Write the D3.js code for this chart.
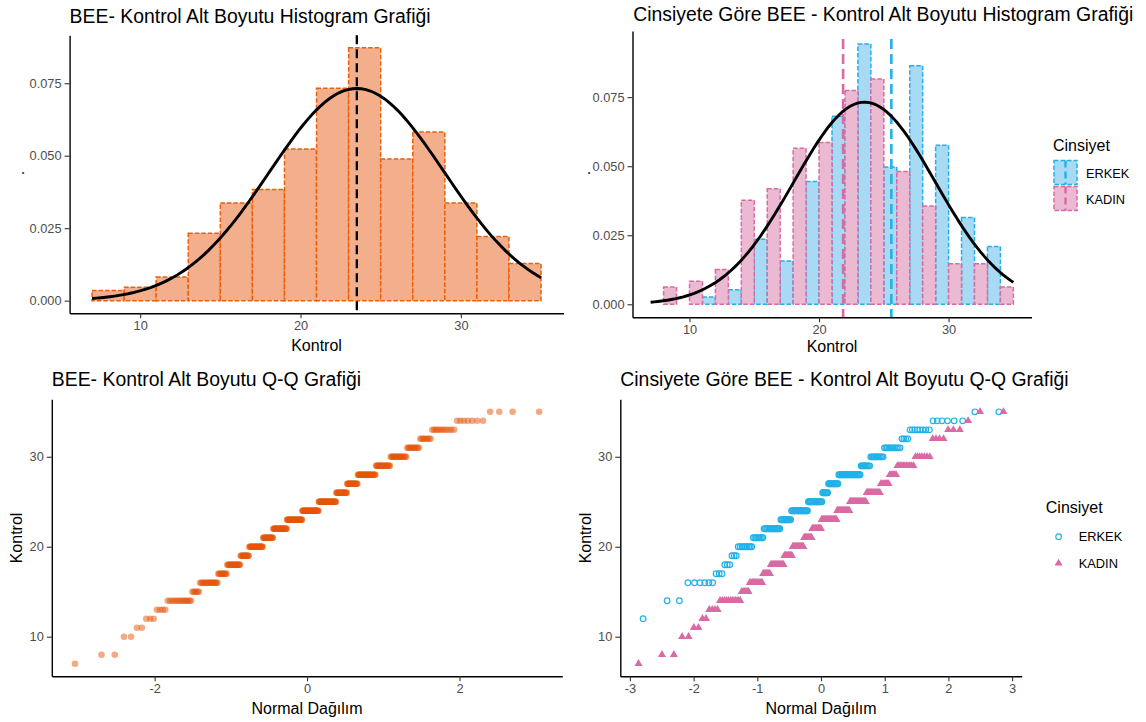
<!DOCTYPE html>
<html>
<head>
<meta charset="utf-8">
<script src="https://cdn.jsdelivr.net/npm/d3@7"></script>
<style>
  body { margin: 0; background: #fff; }
  svg { display: block; font-family: "Liberation Sans", Arial, sans-serif; }
</style>
</head>
<body>
<div id="chart"></div>
<script>
const scores = [7, 8, 9, 10, 11, 12, 13, 14, 15, 16, 17, 18, 19, 20, 21, 22, 23, 24, 25, 26, 27, 28, 29, 30, 31, 32, 33, 34, 35];
const erkekCounts = [0, 0, 0, 0, 0, 1, 0, 2, 0, 6, 3, 3, 3, 9, 8, 15, 11, 19, 17, 7, 12, 24, 9, 11, 11, 4, 8, 6, 2];
const kadinCounts = [1, 2, 0, 2, 2, 2, 4, 12, 6, 12, 8, 16, 11, 16, 12, 14, 23, 18, 21, 15, 8, 6, 11, 7, 0, 4, 3, 1, 2];
const groups = ["ERKEK", "KADIN"];

// histogram bins (binwidth 2) and axis ticks
const binEdges = [7, 9, 11, 13, 15, 17, 19, 21, 23, 25, 27, 29, 31, 33, 35];
const histXTicks = [10, 20, 30];
const histYTicks = [0, 0.025, 0.05, 0.075];
const qqYTicks = [10, 20, 30];
const qqXTicksAll = [-2, 0, 2];
const qqXTicksGroup = [-3, -2, -1, 0, 1, 2, 3];

const titles = [
  "BEE- Kontrol Alt Boyutu Histogram Grafiği",
  "Cinsiyete Göre BEE - Kontrol Alt Boyutu Histogram Grafiği",
  "BEE- Kontrol Alt Boyutu Q-Q Grafiği",
  "Cinsiyete Göre BEE - Kontrol Alt Boyutu Q-Q Grafiği"
];

const colors = {
  orangeFill: "#F3AF8C", orangeLine: "#E8600C", orangePoint: "#E5560A",
  ERKEK: { fill: "#A8DAF3", line: "#22B1E8" },
  KADIN: { fill: "#EBB9D2", line: "#DA6AA4" }
};
const outlineDash = "4.5,2";

const svg = d3.select("#chart")
    .append("svg")
    .attr("width", 1146)
    .attr("height", 722);

// --- helpers ---
const expand = counts => scores.flatMap((v, i) => d3.range(counts[i]).map(() => v));
const erkek = expand(erkekCounts);
const kadin = expand(kadinCounts);
const all = erkek.concat(kadin).sort(d3.ascending);
const sample = { ERKEK: erkek, KADIN: kadin };

// right-closed bins like ggplot (first bin also closed on the left)
function binCounts(values) {
  return binEdges.slice(0, -1).map((x0, i) => {
    const x1 = binEdges[i + 1];
    const n = values.filter(v => i === 0 ? (v >= x0 && v <= x1) : (v > x0 && v <= x1)).length;
    return { x0, x1, density: n / (values.length * (x1 - x0)) };
  });
}

// inverse normal cdf (Acklam)
function qnorm(p) {
  const a = [-3.969683028665376e+01, 2.209460984245205e+02, -2.759285104469687e+02, 1.383577518672690e+02, -3.066479806614716e+01, 2.506628277459239e+00];
  const b = [-5.447609879822406e+01, 1.615858368580409e+02, -1.556989798598866e+02, 6.680131188771972e+01, -1.328068155288572e+01];
  const c = [-7.784894002430293e-03, -3.223964580411365e-01, -2.400758277161838e+00, -2.549732539343734e+00, 4.374664141464968e+00, 2.938163982698783e+00];
  const d = [7.784695709041462e-03, 3.224671290700398e-01, 2.445134137142996e+00, 3.754408661907416e+00];
  let q, r;
  if (p < 0.02425) {
    q = Math.sqrt(-2 * Math.log(p));
    return (((((c[0]*q+c[1])*q+c[2])*q+c[3])*q+c[4])*q+c[5]) / ((((d[0]*q+d[1])*q+d[2])*q+d[3])*q+1);
  }
  if (p <= 1 - 0.02425) {
    q = p - 0.5; r = q * q;
    return (((((a[0]*r+a[1])*r+a[2])*r+a[3])*r+a[4])*r+a[5])*q / (((((b[0]*r+b[1])*r+b[2])*r+b[3])*r+b[4])*r+1);
  }
  q = Math.sqrt(-2 * Math.log(1 - p));
  return -(((((c[0]*q+c[1])*q+c[2])*q+c[3])*q+c[4])*q+c[5]) / ((((d[0]*q+d[1])*q+d[2])*q+d[3])*q+1);
}

// theoretical quantiles for a sorted sample (ppoints)
function qqPoints(values) {
  const s = values.slice().sort(d3.ascending), n = s.length;
  return s.map((v, i) => ({ q: qnorm((i + 0.5) / n), v }));
}

// ggplot-like 5% expansion
const expandDomain = ([lo, hi]) => { const m = (hi - lo) * 0.05; return [lo - m, hi + m]; };

function drawAxes(g, x, y, box, xTicks, yTicks, yFmt) {
  const xa = g.append("g")
      .attr("transform", `translate(0,${box.y1})`)
      .call(d3.axisBottom(x).tickValues(xTicks).tickFormat(d => String(d)).tickSize(5).tickPadding(3).tickSizeOuter(0));
  const ya = g.append("g")
      .attr("transform", `translate(${box.x0},0)`)
      .call(d3.axisLeft(y).tickValues(yTicks).tickFormat(yFmt).tickSize(5).tickPadding(3).tickSizeOuter(0));
  [xa, ya].forEach(a => {
    a.select(".domain").attr("stroke", "#000").attr("stroke-width", 1.4);
    a.selectAll(".tick line").attr("stroke", "#333").attr("stroke-width", 1.1);
    a.selectAll(".tick text").attr("fill", "#4D4D4D").style("font-size", "12.8px");
  });
}

function addText(x, y, txt, size, anchor, rotate) {
  const t = svg.append("text")
      .attr("x", x).attr("y", y)
      .attr("text-anchor", anchor || "start")
      .style("font-size", size + "px")
      .attr("fill", "#000")
      .text(txt);
  if (rotate) t.attr("transform", `rotate(-90,${x},${y})`);
  return t;
}

// overall normal curve parameters, from the data
const mu = d3.mean(all), sd = d3.deviation(all);
const dnorm = v => Math.exp(-0.5 * ((v - mu) / sd) ** 2) / (sd * Math.sqrt(2 * Math.PI));
const curveX = d3.range(101).map(i => 7 + i * (35 - 7) / 100);

// ---------------- Panel 1: overall histogram ----------------
{
  const box = { x0: 69.6, x1: 563.5, y0: 35.2, y1: 313.3 };
  const bins = binCounts(all);
  const x = d3.scaleLinear().domain(expandDomain([7, 35])).range([box.x0, box.x1]);
  const y = d3.scaleLinear().domain(expandDomain([0, d3.max(bins, d => d.density)])).range([box.y1, box.y0]);
  const g = svg.append("g");

  g.selectAll("rect.bar").data(bins).join("rect")
      .attr("x", d => x(d.x0)).attr("width", d => x(d.x1) - x(d.x0))
      .attr("y", d => y(d.density)).attr("height", d => y(0) - y(d.density))
      .attr("fill", colors.orangeFill)
      .attr("stroke", colors.orangeLine).attr("stroke-width", 1.5)
      .attr("stroke-dasharray", outlineDash);

  g.append("line")
      .attr("x1", x(mu)).attr("x2", x(mu)).attr("y1", box.y0).attr("y2", box.y1)
      .attr("stroke", "#000").attr("stroke-width", 2.3).attr("stroke-dasharray", "9,5");

  g.append("path")
      .datum(curveX)
      .attr("d", d3.line().x(d => x(d)).y(d => y(dnorm(d))))
      .attr("fill", "none").attr("stroke", "#000").attr("stroke-width", 2.9);

  drawAxes(g, x, y, box, histXTicks, histYTicks, d3.format(".3f"));
  addText(box.x0, 22.7, titles[0], 19.4);
  addText((box.x0 + box.x1) / 2, 350.7, "Kontrol", 16, "middle");
  addText(24, 173, ".", 16, "middle", true);
}

// ---------------- Panel 2: histogram by gender (dodged) ----------------
{
  const box = { x0: 632.5, x1: 1031.5, y0: 31, y1: 317.3 };
  const binsBy = groups.map((grp, gi) => binCounts(sample[grp]).map(b => ({
    grp, x0: b.x0 + gi * (b.x1 - b.x0) / 2, x1: b.x0 + (gi + 1) * (b.x1 - b.x0) / 2, density: b.density
  })));
  const flat = binsBy.flat();
  const x = d3.scaleLinear().domain(expandDomain([7, 35])).range([box.x0, box.x1]);
  const y = d3.scaleLinear().domain(expandDomain([0, d3.max(flat, d => d.density)])).range([box.y1, box.y0]);
  const g = svg.append("g");

  g.selectAll("rect.bar").data(flat).join("rect")
      .attr("x", d => x(d.x0)).attr("width", d => x(d.x1) - x(d.x0))
      .attr("y", d => y(d.density)).attr("height", d => y(0) - y(d.density))
      .attr("fill", d => colors[d.grp].fill)
      .attr("stroke", d => colors[d.grp].line).attr("stroke-width", 1.5)
      .attr("stroke-dasharray", outlineDash);

  groups.forEach(grp => {
    const m = d3.mean(sample[grp]);
    g.append("line")
        .attr("x1", x(m)).attr("x2", x(m)).attr("y1", box.y0 + 8).attr("y2", box.y1)
        .attr("stroke", colors[grp].line).attr("stroke-width", 2.6).attr("stroke-dasharray", "10,5");
  });

  g.append("path")
      .datum(curveX)
      .attr("d", d3.line().x(d => x(d)).y(d => y(dnorm(d))))
      .attr("fill", "none").attr("stroke", "#000").attr("stroke-width", 2.9);

  drawAxes(g, x, y, box, histXTicks, histYTicks, d3.format(".3f"));
  addText(box.x0 + 0.7, 20.7, titles[1], 19.4);
  addText((box.x0 + box.x1) / 2, 352.4, "Kontrol", 16, "middle");
  addText(590, 173, ".", 16, "middle", true);

  // legend
  addText(1053, 150.7, "Cinsiyet", 16);
  groups.forEach((grp, i) => {
    const ky = 160.5 + i * 26;
    g.append("rect")
        .attr("x", 1054).attr("y", ky).attr("width", 23).attr("height", 24)
        .attr("fill", colors[grp].fill).attr("stroke", colors[grp].line)
        .attr("stroke-width", 1.5).attr("stroke-dasharray", outlineDash);
    g.append("line")
        .attr("x1", 1065.5).attr("x2", 1065.5).attr("y1", ky).attr("y2", ky + 24)
        .attr("stroke", colors[grp].line).attr("stroke-width", 2.4).attr("stroke-dasharray", "7,4");
    addText(1086, ky + 12.5 + 4.6, grp, 12.8);
  });
}

// ---------------- Panel 3: overall Q-Q ----------------
{
  const box = { x0: 51.8, x1: 562.3, y0: 399.2, y1: 676.3 };
  const pts = qqPoints(all);
  const x = d3.scaleLinear().domain(expandDomain(d3.extent(pts, d => d.q))).range([box.x0, box.x1]);
  const y = d3.scaleLinear().domain(expandDomain(d3.extent(pts, d => d.v))).range([box.y1, box.y0]);
  const g = svg.append("g");

  g.selectAll("circle").data(pts).join("circle")
      .attr("cx", d => x(d.q)).attr("cy", d => y(d.v)).attr("r", 3.3)
      .attr("fill", colors.orangePoint).attr("fill-opacity", 0.5);

  drawAxes(g, x, y, box, qqXTicksAll, qqYTicks, d => String(d));
  addText(box.x0, 386, titles[2], 19.4);
  addText((box.x0 + box.x1) / 2, 713.7, "Normal Dağılım", 16, "middle");
  addText(21.7, 538, "Kontrol", 16, "middle", true);
}

// ---------------- Panel 4: Q-Q by gender ----------------
{
  const box = { x0: 620.3, x1: 1021.7, y0: 399.2, y1: 676.3 };
  const ptsBy = groups.map(grp => qqPoints(sample[grp]).map(p => ({ ...p, grp })));
  const flat = ptsBy.flat();
  const x = d3.scaleLinear().domain(expandDomain(d3.extent(flat, d => d.q))).range([box.x0, box.x1]);
  const y = d3.scaleLinear().domain(expandDomain(d3.extent(flat, d => d.v))).range([box.y1, box.y0]);
  const g = svg.append("g");
  const tri = d3.symbol().type(d3.symbolTriangle).size(28);

  g.selectAll("circle").data(ptsBy[0]).join("circle")
      .attr("cx", d => x(d.q)).attr("cy", d => y(d.v)).attr("r", 2.8)
      .attr("fill", "none").attr("stroke", colors.ERKEK.line).attr("stroke-width", 1.2);

  g.selectAll("path.tri").data(ptsBy[1]).join("path")
      .attr("class", "tri")
      .attr("transform", d => `translate(${x(d.q)},${y(d.v)})`)
      .attr("d", tri)
      .attr("fill", colors.KADIN.line);

  drawAxes(g, x, y, box, qqXTicksGroup, qqYTicks, d => String(d));
  addText(box.x0, 386, titles[3], 19.4);
  addText((box.x0 + box.x1) / 2, 713.7, "Normal Dağılım", 16, "middle");
  addText(591, 538, "Kontrol", 16, "middle", true);

  // legend
  addText(1045.8, 513.4, "Cinsiyet", 16);
  g.append("circle").attr("cx", 1058.6).attr("cy", 536.7).attr("r", 2.8)
      .attr("fill", "none").attr("stroke", colors.ERKEK.line).attr("stroke-width", 1.2);
  g.append("path").attr("transform", "translate(1058.6,563.3)").attr("d", tri).attr("fill", colors.KADIN.line);
  addText(1078.8, 536.7 + 4.6, "ERKEK", 12.8);
  addText(1078.8, 563.3 + 4.6, "KADIN", 12.8);
}
</script>
</body>
</html>
